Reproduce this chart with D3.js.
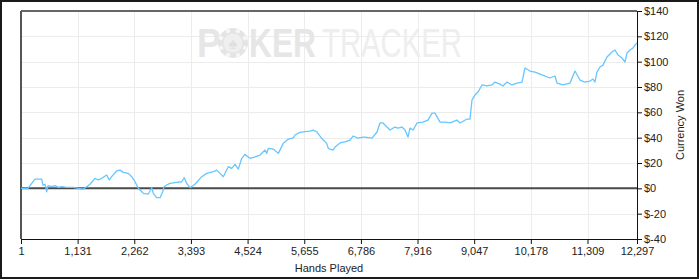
<!DOCTYPE html>
<html><head><meta charset="utf-8">
<script src="https://cdn.jsdelivr.net/npm/d3@7"></script>
<style>
html,body{margin:0;padding:0;background:#fff;}
svg{display:block;}
text{font-family:"Liberation Sans",Arial,sans-serif;}
</style></head>
<body>
<svg id="chart" width="700" height="280"></svg>
<script>
const hands = [1,141,181,280,414,440,480,514,540,614,680,746,813,913,1045,1145,1245,1312,1378,1478,1544,1612,1712,1764,1811,1911,1977,2043,2143,2211,2277,2343,2443,2542,2610,2642,2710,2776,2830,2856,2910,2975,3109,3209,3261,3309,3375,3474,3608,3708,3840,3907,3973,4039,4139,4207,4273,4339,4407,4472,4572,4672,4772,4872,4906,4938,5037,5137,5237,5337,5436,5470,5570,5670,5770,5836,5903,6003,6103,6135,
  6169,6229,6269,6369,6468,6568,6628,6728,6828,6868,7008,7107,7167,7227,7307,7367,7466,7526,7606,7666,7726,7766,7826,7906,8025,8125,8205,8265,8365,8464,8564,8704,8764,8904,8964,9003,9063,9123,9203,9303,9402,9462,9562,9622,9702,9802,9902,10001,10061,10161,10261,10401,10560,10660,10700,10820,10960,11059,11159,11259,11359,11419,11458,11498,11558,11618,11698,11798,11858,11918,11997,12057,12097,12157,12217,12257,12297];
const won = [0,0,2.1,7.3,7.3,2.6,3.2,-2.7,2.1,1.3,2.1,0.8,1.3,0.8,0.8,0,-0.6,1.3,3.2,7.9,6.6,7.9,10.5,6.6,9.2,13.7,14.4,12.6,11.8,9.2,5.2,0,-3.9,-4.5,0.5,-3.9,-7.4,-7.4,-2.7,1.3,2.6,3.9,4.7,5.2,8.4,3.9,0.5,3.2,9.2,11.8,13.1,14.4,11.8,9.2,17.1,15.8,18.9,15.2,23.7,26.8,23.7,24.9,26.3,30.2,27.6,31.6,31.0,27.6,35.5,38.9,39.9,42.1,44.2,44.7,45.2,46.0,44.7,39.5,35.5,31.6,
  31.0,30.2,32.6,35.8,36.6,38.1,41.3,39.7,40.5,40.5,39.7,44.5,51.6,51.6,48.4,46.0,48.4,47.6,48.4,46.0,40.5,47.6,46.0,51.6,52.3,53.9,59.4,59.4,52.3,52.3,51.6,53.9,51.6,54.7,54.7,69.7,73.7,76.0,81.6,80.8,81.6,83.9,82.3,80.8,83.9,81.6,83.1,83.9,95.0,92.6,91.8,89.5,87.1,88.7,83.1,81.6,83.1,92.6,85.5,83.9,84.7,86.3,83.9,91.8,95.8,97.3,103.7,107.6,109.2,105.2,102.9,99.7,106.8,109.2,110.8,113.1,114.7];
const xTicks = [1,1131,2262,3393,4524,5655,6786,7916,9047,10178,11309,12297];
const yTicks = [-40,-20,0,20,40,60,80,100,120,140];
const xTitle = "Hands Played";
const yTitle = "Currency Won";

const svg = d3.select("#chart");
const L = 21, R = 637, T = 11, B = 239;
const x = d3.scaleLinear().domain([1, 12297]).range([L, R]);
const y = d3.scaleLinear().domain([-40, 140]).range([B, T]);

// outer border
svg.append("rect").attr("x",1).attr("y",1).attr("width",697).attr("height",277)
  .attr("fill","#fff").attr("stroke","#1a1a1a").attr("stroke-width",2);

// grid
svg.append("g").selectAll("line").data(xTicks.slice(1,-1)).join("line")
  .attr("x1",d=>Math.round(x(d))+0.5).attr("x2",d=>Math.round(x(d))+0.5)
  .attr("y1",T).attr("y2",B).attr("stroke","#ececec").attr("stroke-width",1);
svg.append("g").selectAll("line").data(yTicks.filter(d=>d!==0 && d!==140 && d!==-40)).join("line")
  .attr("x1",L).attr("x2",R).attr("y1",d=>Math.round(y(d))+0.5).attr("y2",d=>Math.round(y(d))+0.5)
  .attr("stroke","#ececec").attr("stroke-width",1);

// watermark (words squeezed horizontally to the logo's proportions)
const wm = svg.append("g");
function word(txt, x0, w, bold, fill){
  const t = wm.append("text").attr("x",0).attr("y",0).attr("font-size",40)
    .attr("font-weight", bold ? "bold" : "normal").attr("fill",fill).text(txt);
  const nat = t.node().getComputedTextLength();
  t.attr("transform",`translate(${x0},57) scale(${w/nat},1)`);
}
word("P", 197, 24, true, "#e6e6e6");
wm.append("circle").attr("cx",233).attr("cy",43).attr("r",15).attr("fill","#e4e4e4");
wm.selectAll("rect.n").data(d3.range(8)).join("rect")
  .attr("x",231).attr("y",28).attr("width",4).attr("height",4).attr("fill","#f6f6f6")
  .attr("transform",d=>`rotate(${d*45+22.5},233,43)`);
wm.append("circle").attr("cx",233).attr("cy",43).attr("r",9.5).attr("fill","#efefef");
wm.append("text").attr("x",233).attr("y",49).attr("text-anchor","middle").attr("font-size",16)
  .attr("fill","#e0e0e0").text("♠");
word("KER", 249, 67, true, "#e6e6e6");
word("TRACKER", 322, 140, false, "#eeeeee");

// frame: top and left
svg.append("line").attr("x1",L).attr("x2",R).attr("y1",T).attr("y2",T).attr("stroke","#666").attr("stroke-width",2);
svg.append("line").attr("x1",L).attr("x2",L).attr("y1",T).attr("y2",B).attr("stroke","#555").attr("stroke-width",2);

// zero line
svg.append("line").attr("x1",L).attr("x2",R).attr("y1",y(0)).attr("y2",y(0)).attr("stroke","#4a4a4a").attr("stroke-width",2);

// data line
const line = d3.line().x((d,i)=>x(hands[i])).y((d,i)=>y(won[i]));
svg.append("path").datum(won).attr("d",line).attr("fill","none")
  .attr("stroke","#66c6ff").attr("stroke-width",1.3).attr("stroke-linejoin","round");

// axes
const xAxis = d3.axisBottom(x).tickValues(xTicks).tickSize(5).tickSizeOuter(0).tickFormat(d3.format(","));
const gx = svg.append("g").attr("transform",`translate(0,${B})`).call(xAxis);
gx.select(".domain").attr("stroke","#111");
gx.selectAll(".tick line").attr("stroke","#111");
gx.selectAll(".tick text").attr("font-size",11).attr("fill","#222").attr("dy","0.71em").attr("y",8)
  .style("font-family","'Liberation Sans',Arial,sans-serif");

const yAxis = d3.axisRight(y).tickValues(yTicks).tickSize(5).tickSizeOuter(0).tickFormat(d=>"$"+d);
const gy = svg.append("g").attr("transform",`translate(${R},0)`).call(yAxis);
gy.select(".domain").attr("stroke","#111");
gy.selectAll(".tick line").attr("stroke","#111");
gy.selectAll(".tick text").attr("font-size",11).attr("fill","#222").attr("x",7)
  .style("font-family","'Liberation Sans',Arial,sans-serif");

svg.append("text").attr("x",(L+R)/2).attr("y",272).attr("text-anchor","middle")
  .attr("font-size",11).attr("fill","#222").text(xTitle);
svg.append("text").attr("transform",`translate(684,${(T+B)/2}) rotate(-90)`).attr("text-anchor","middle")
  .attr("font-size",11).attr("fill","#222").text(yTitle);
</script>
</body></html>
